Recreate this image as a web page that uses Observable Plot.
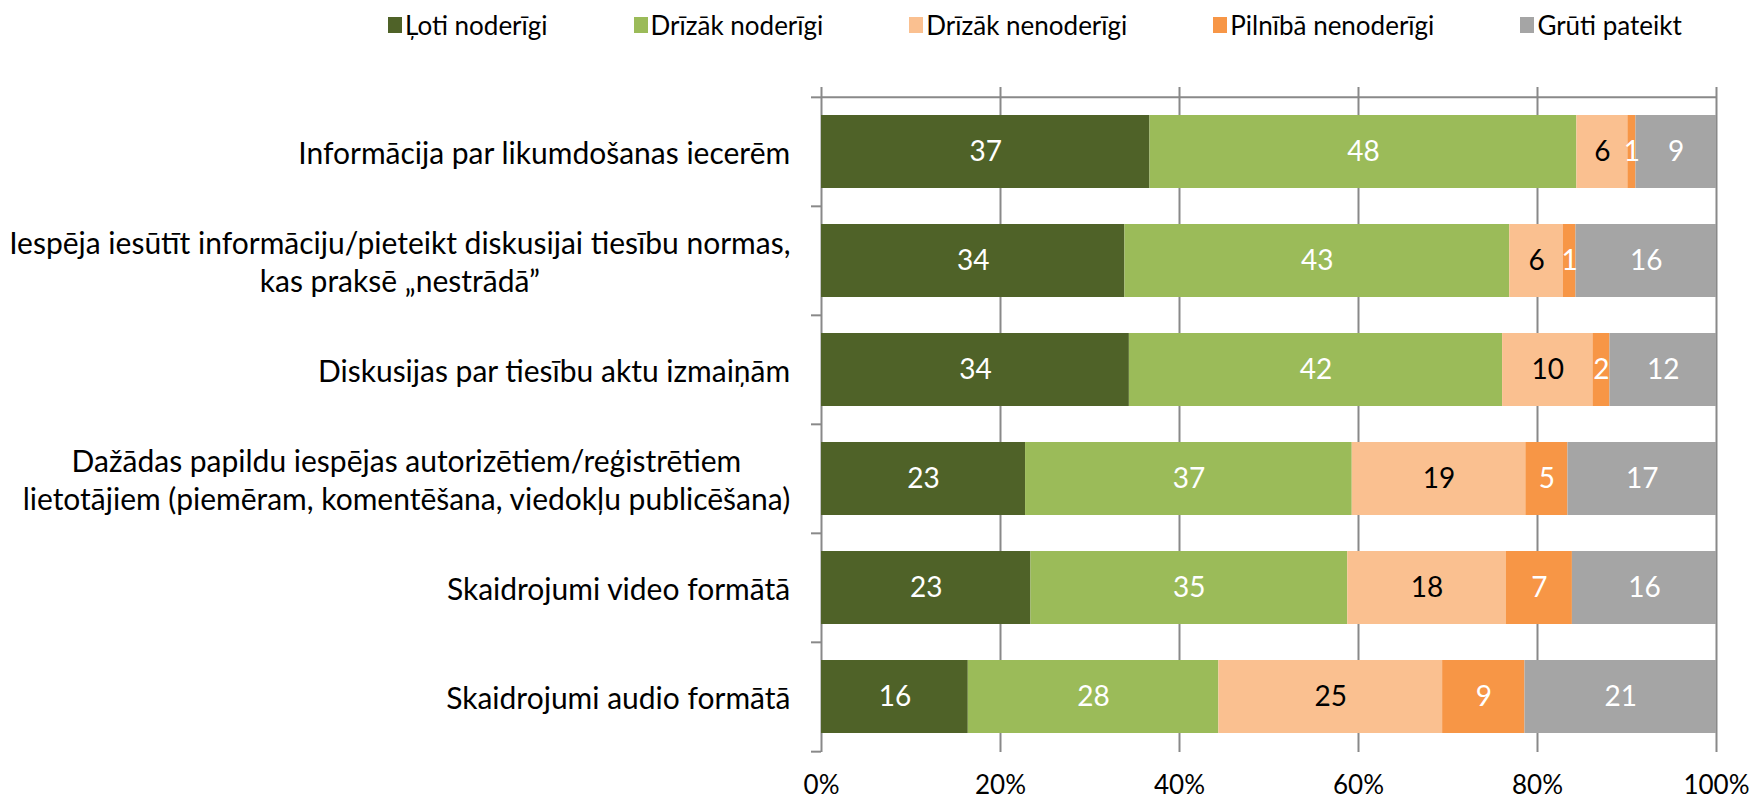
<!DOCTYPE html>
<html>
<head>
<meta charset="utf-8">
<script src="https://cdn.jsdelivr.net/npm/d3@7"></script>
<script src="https://cdn.jsdelivr.net/npm/@observablehq/plot@0.6"></script>
<style>
  html, body { margin: 0; padding: 0; background: #fff; }
  #wrap { width: 1749px; font-family: Lato, "Noto Sans", sans-serif; }
  #legend { height: 60px; display: flex; align-items: center; padding-left: 388px; gap: 86px; box-sizing: border-box; padding-bottom: 10px; }
  .item { display: flex; align-items: center; font-size: 26px; color: #000; white-space: nowrap; }
  .sw { width: 14px; height: 16px; margin-right: 3px; }
</style>
</head>
<body>
<div id="wrap">
  <div id="legend"></div>
  <div id="chart"></div>
</div>
<script>
// ---- data ----
const categories = [
  "Informācija par likumdošanas iecerēm",
  "Iespēja iesūtīt informāciju/pieteikt diskusijai tiesību normas,\nkas praksē „nestrādā”",
  "Diskusijas par tiesību aktu izmaiņām",
  "Dažādas papildu iespējas autorizētiem/reģistrētiem\nlietotājiem (piemēram, komentēšana, viedokļu publicēšana)",
  "Skaidrojumi video formātā",
  "Skaidrojumi audio formātā"
];
const series = ["Ļoti noderīgi", "Drīzāk noderīgi", "Drīzāk nenoderīgi", "Pilnībā nenoderīgi", "Grūti pateikt"];
const colors = ["#4F6228", "#9BBB59", "#FAC090", "#F79646", "#A5A5A5"];

const lotiNoderigi      = [36.7, 33.9, 34.4, 22.8, 23.4, 16.4];
const drizakNoderigi    = [47.7, 43.0, 41.7, 36.5, 35.4, 28.0];
const drizakNenoderigi  = [5.7, 6.0, 10.1, 19.4, 17.7, 25.0];
const pilnibaNenoderigi = [0.9, 1.4, 1.9, 4.7, 7.4, 9.2];
const grutiPateikt      = [9.0, 15.7, 11.9, 16.6, 16.1, 21.4];

const lotiNoderigiLbl      = [37, 34, 34, 23, 23, 16];
const drizakNoderigiLbl    = [48, 43, 42, 37, 35, 28];
const drizakNenoderigiLbl  = [6, 6, 10, 19, 18, 25];
const pilnibaNenoderigiLbl = [1, 1, 2, 5, 7, 9];
const grutiPateiktLbl      = [9, 16, 12, 17, 16, 21];

const xTicks = [0, 20, 40, 60, 80, 100];
const xTickLabels = ["0%", "20%", "40%", "60%", "80%", "100%"];

// ---- build table ----
const seriesValues = [lotiNoderigi, drizakNoderigi, drizakNenoderigi, pilnibaNenoderigi, grutiPateikt];
const seriesLabels = [lotiNoderigiLbl, drizakNoderigiLbl, drizakNenoderigiLbl, pilnibaNenoderigiLbl, grutiPateiktLbl];
const rows = [];
categories.forEach((c, ci) => {
  series.forEach((s, si) => {
    rows.push({cat: c, series: s, value: seriesValues[si][ci], label: String(seriesLabels[si][ci])});
  });
});
const darkTextSeries = series[2];

// ---- legend ----
const legend = document.getElementById("legend");
series.forEach((s, i) => {
  const it = document.createElement("div");
  it.className = "item";
  const sw = document.createElement("span");
  sw.className = "sw";
  sw.style.background = colors[i];
  it.appendChild(sw);
  it.appendChild(document.createTextNode(s));
  legend.appendChild(it);
});

// ---- layout ----
const W = 1749, H = 737;
const mTop = 27, mBottom = 45, mLeft = 821, mRight = 33, insetTop = 9;
const step = (H - mTop - mBottom - insetTop) / categories.length;
const tickPct = 10 / ((W - mLeft - mRight) / 100);
const labelFont = 30, barFont = 28, tickFont = 26;

const canvas = document.createElement("canvas");
const ctx = canvas.getContext("2d");
ctx.font = `${labelFont}px Lato`;
const blockWidth = c => Math.max(...c.split("\n").map(l => ctx.measureText(l).width));

const labelMarks = categories.map(c => Plot.text([c], {
  y: d => d,
  text: d => d,
  frameAnchor: "left",
  textAnchor: "middle",
  dx: -31 - blockWidth(c) / 2,
  lineHeight: 1.27,
  fontSize: labelFont,
  fill: "#000"
}));

const chart = Plot.plot({
  width: W,
  height: H,
  marginTop: mTop,
  marginBottom: mBottom,
  marginLeft: mLeft,
  marginRight: mRight,
  style: {fontFamily: "Lato, 'Noto Sans', sans-serif", background: "#fff", overflow: "visible"},
  x: {domain: [0, 100], axis: null},
  y: {domain: categories, axis: null, insetTop: insetTop, paddingInner: 0.33, paddingOuter: 0.165},
  color: {domain: series, range: colors},
  marks: [
    Plot.ruleX(xTicks, {x: d => d, stroke: "#898989", strokeWidth: 2}),
    Plot.barX(rows, Plot.stackX({x: "value", y: "cat", fill: "series"})),
    Plot.text(rows, Plot.stackX({x: "value", y: "cat", z: "series",
      text: d => d.series === darkTextSeries ? d.label : null, fill: "#000", fontSize: barFont})),
    Plot.text(rows, Plot.stackX({x: "value", y: "cat", z: "series",
      text: d => d.series !== darkTextSeries ? d.label : null, fill: "#fff", fontSize: barFont})),
    Plot.ruleY(categories, {y: d => d, dy: -step / 2, x1: -tickPct, x2: 0, stroke: "#898989", strokeWidth: 2}),
    Plot.ruleY([categories[0]], {y: d => d, dy: -step / 2, x1: 0, x2: 100, stroke: "#898989", strokeWidth: 2}),
    Plot.ruleY([categories[categories.length - 1]], {y: d => d, dy: step / 2, x1: -tickPct, x2: 0, stroke: "#898989", strokeWidth: 2}),
    Plot.text(xTicks, {x: d => d, text: (d, i) => xTickLabels[i], frameAnchor: "bottom", lineAnchor: "middle", dy: 33, fontSize: tickFont, fill: "#000"}),
    ...labelMarks
  ]
});
document.getElementById("chart").appendChild(chart);
</script>
</body>
</html>
